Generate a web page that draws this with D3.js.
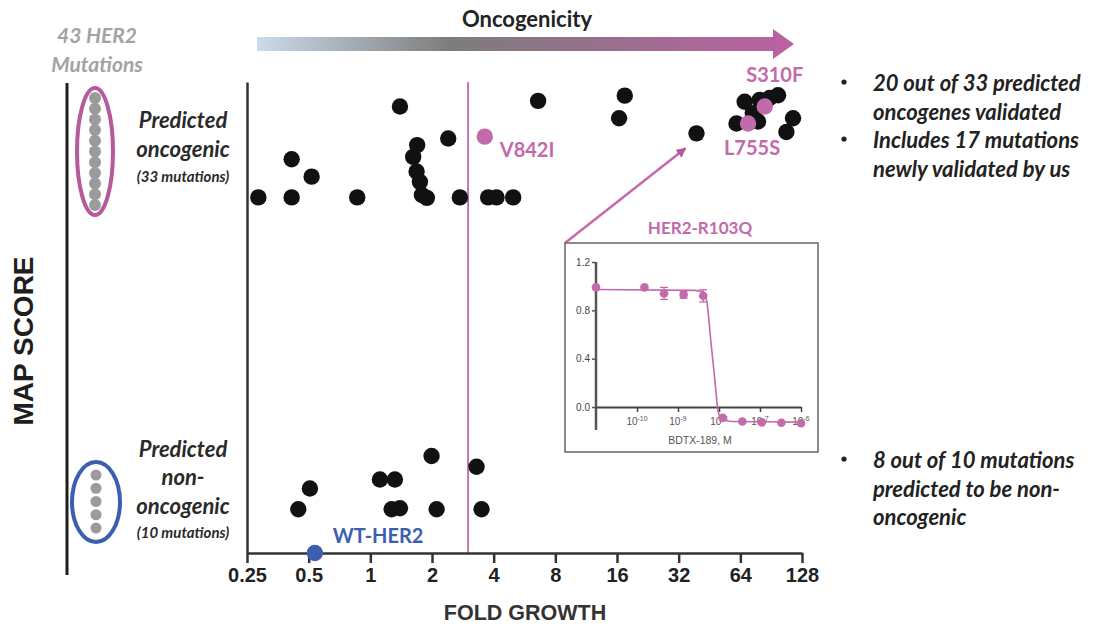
<!DOCTYPE html>
<html><head><meta charset="utf-8">
<script src="https://cdn.jsdelivr.net/npm/d3@7"></script>
<style>body{margin:0;background:#fff} svg{display:block}</style>
</head><body><svg id="c" width="1100" height="630"></svg>
<script>
// ---------- data ----------
const foldTicks = [0.25, 0.5, 1, 2, 4, 8, 16, 32, 64, 128];
const foldTickLabels = ["0.25", "0.5", "1", "2", "4", "8", "16", "32", "64", "128"];
const threshold = 3;

// predicted oncogenic, black markers [fold growth, MAP score]
const oncogenicPoints = [
  [0.284, 75.5], [0.413, 75.5], [0.413, 83.6], [0.517, 79.9], [0.863, 75.5],
  [1.395, 94.8], [1.693, 86.6], [1.619, 84.1], [1.682, 81.0], [1.746, 78.8],
  [1.785, 76.0], [1.888, 75.4], [2.40, 88.0], [2.736, 75.5], [3.76, 75.5],
  [4.13, 75.5], [4.98, 75.5], [6.59, 96.0], [17.46, 97.1], [16.38, 92.3],
  [61.3, 91.2], [67.2, 95.8], [79.6, 96.2], [97.8, 97.2], [78.1, 91.6],
  [115.7, 92.3], [107.4, 89.4], [73.6, 93.4], [89.0, 96.6]
];
const calloutMutation = { name: "HER2-R103Q", fold: 39.1, score: 89.1 };
const highlightNames = ["V842I", "S310F", "L755S"];
const highlightFold = [3.62, 84.2, 69.8];
const highlightScore = [88.4, 94.8, 91.2];

// predicted non-oncogenic
const nonOncogenicPoints = [
  [0.507, 13.7], [0.445, 9.3], [1.114, 15.6], [1.318, 15.6], [1.99, 20.6],
  [1.270, 9.3], [1.395, 9.5], [2.107, 9.3], [3.30, 18.3], [3.49, 9.3]
];
const wildType = { name: "WT-HER2", fold: 0.536, score: 0 };

// inset dose response (BDTX-189, M)
const insetConc = [1e-11, 1.52e-10, 4.57e-10, 1.37e-9, 4.12e-9, 1.23e-8, 3.7e-8, 1.11e-7, 3.33e-7, 1e-6];
const insetResp = [0.99, 0.99, 0.94, 0.93, 0.92, -0.09, -0.12, -0.127, -0.13, -0.135];
const insetErr  = [0, 0, 0.05, 0.03, 0.05, 0, 0, 0, 0, 0];
const insetFitLogConc = [-11, -8.6, -8.38, -8.3, -8.2, -8.1, -8.02, -7.93, -7.7, -6];
const insetFitResp    = [0.972, 0.965, 0.95, 0.88, 0.55, 0.22, -0.04, -0.1, -0.12, -0.125];
const insetYTicks = [0.0, 0.4, 0.8, 1.2];
const insetXTickExp = [-10, -9, -8, -7, -6];

const rightNotesTop = ["20 out of 33 predicted", "oncogenes validated", "Includes 17 mutations", "newly validated by us"];
const rightNotesBottom = ["8 out of 10 mutations", "predicted to be non-", "oncogenic"];

// ---------- styles ----------
const MAG = "#b55a9d", MAG2 = "#c36aab", BLUE = "#3d5db2", INK = "#1e1e1e";
const SANS = "'Liberation Sans', Arial, sans-serif";
const CAL = "Lato, 'Open Sans', sans-serif";

const svg = d3.select("#c");
const x = d3.scaleLog().base(2).domain([0.25, 128]).range([247, 802]);
const y = d3.scaleLinear().domain([0, 100]).range([553, 82]);

// ---------- oncogenicity arrow ----------
const defs = svg.append("defs");
const grad = defs.append("linearGradient").attr("id", "g1").attr("x1", "0%").attr("x2", "100%");
grad.append("stop").attr("offset", "0%").attr("stop-color", "#cbdbea");
grad.append("stop").attr("offset", "36%").attr("stop-color", "#7c7c7c");
grad.append("stop").attr("offset", "100%").attr("stop-color", "#bb61a2");
defs.append("marker").attr("id", "ah").attr("viewBox", "0 0 10 10").attr("refX", 9).attr("refY", 5)
  .attr("markerWidth", 4).attr("markerHeight", 4).attr("orient", "auto")
  .append("path").attr("d", "M0,0L10,5L0,10z").attr("fill", MAG);

svg.append("path")
  .attr("d", "M257,37 L773,37 L773,29 L794,44 L773,59 L773,51 L257,51 Z")
  .attr("fill", "url(#g1)");
svg.append("text").attr("x", 527).attr("y", 27).attr("text-anchor", "middle")
  .attr("font-family", CAL).attr("font-weight", 700).attr("font-size", 22).attr("fill", "#222")
  .text("Oncogenicity");

// ---------- left annotation ----------
svg.append("text").attr("x", 97).attr("y", 43).attr("text-anchor", "middle")
  .attr("font-family", CAL).attr("font-weight", 700).attr("font-style", "italic")
  .attr("font-size", 21).attr("fill", "#a3a3a3").text("43 HER2");
svg.append("text").attr("x", 97).attr("y", 72).attr("text-anchor", "middle")
  .attr("font-family", CAL).attr("font-weight", 700).attr("font-style", "italic")
  .attr("font-size", 21).attr("fill", "#a3a3a3").text("Mutations");

svg.append("line").attr("x1", 67).attr("x2", 67).attr("y1", 83).attr("y2", 575)
  .attr("stroke", INK).attr("stroke-width", 3);

svg.append("text").attr("transform", "translate(33,341) rotate(-90)").attr("text-anchor", "middle")
  .attr("font-family", SANS).attr("font-weight", 700).attr("font-size", 28).attr("fill", INK)
  .text("MAP SCORE");

function grayColumn(cx, y0, y1, n, r) {
  const s = d3.scalePoint().domain(d3.range(n)).range([y0, y1]);
  svg.append("g").selectAll("circle").data(d3.range(n)).join("circle")
    .attr("cx", cx).attr("cy", d => s(d)).attr("r", r).attr("fill", "#9b9b9b");
}
grayColumn(95, 98, 205, 11, 6);
svg.append("ellipse").attr("cx", 95).attr("cy", 151.5).attr("rx", 18).attr("ry", 63.5)
  .attr("fill", "none").attr("stroke", MAG).attr("stroke-width", 4);
grayColumn(96, 475, 528, 5, 5.5);
svg.append("ellipse").attr("cx", 96).attr("cy", 502).attr("rx", 24).attr("ry", 40)
  .attr("fill", "none").attr("stroke", BLUE).attr("stroke-width", 4);

function groupLabel(lines, sizes, ys) {
  lines.forEach((t, i) => {
    svg.append("text").attr("x", 183).attr("y", ys[i]).attr("text-anchor", "middle")
      .attr("font-family", CAL).attr("font-weight", 700).attr("font-style", "italic")
      .attr("font-size", sizes[i]).attr("fill", "#2a2a2a").text(t);
  });
}
groupLabel(["Predicted", "oncogenic", "(33 mutations)"], [22, 22, 15], [128, 157, 182]);
groupLabel(["Predicted", "non-", "oncogenic", "(10 mutations)"], [22, 22, 22, 15], [457, 485, 514, 538]);

// ---------- main axes ----------
svg.append("line").attr("x1", x(threshold)).attr("x2", x(threshold))
  .attr("y1", y(100)).attr("y2", y(0)).attr("stroke", MAG).attr("stroke-width", 1.6);

const gy = svg.append("g").attr("transform", `translate(${x(0.25)},0)`)
  .call(d3.axisLeft(y).tickValues([]).tickSizeOuter(0));
gy.select(".domain").attr("stroke", "#333").attr("stroke-width", 2.5);

const gx = svg.append("g").attr("transform", `translate(0,${y(0)})`)
  .call(d3.axisBottom(x).tickValues(foldTicks).tickFormat((d, i) => foldTickLabels[i])
    .tickSize(10).tickSizeOuter(0).tickPadding(5));
gx.select(".domain").attr("stroke", "#333").attr("stroke-width", 2.5);
gx.selectAll(".tick line").attr("stroke", "#333").attr("stroke-width", 2.5);
gx.selectAll(".tick text").attr("font-family", SANS).attr("font-weight", 700)
  .attr("font-size", 20).attr("fill", "#222");

svg.append("text").attr("x", 525).attr("y", 620).attr("text-anchor", "middle")
  .attr("font-family", SANS).attr("font-weight", 700).attr("font-size", 21.5).attr("fill", "#333").text("FOLD GROWTH");

// ---------- callout line + inset ----------
const inset = { x: 565, y: 243, w: 253, h: 209 };
svg.append("line").attr("x1", inset.x).attr("y1", inset.y)
  .attr("x2", x(calloutMutation.fold) - 11).attr("y2", y(calloutMutation.score) + 15)
  .attr("stroke", MAG2).attr("stroke-width", 2.5).attr("marker-end", "url(#ah)");

// ---------- dots ----------
const R = 8.2;
svg.append("g").selectAll("circle").data(oncogenicPoints.concat([[calloutMutation.fold, calloutMutation.score]]))
  .join("circle").attr("cx", d => x(d[0])).attr("cy", d => y(d[1])).attr("r", R).attr("fill", "#111");
svg.append("g").selectAll("circle").data(nonOncogenicPoints)
  .join("circle").attr("cx", d => x(d[0])).attr("cy", d => y(d[1])).attr("r", R).attr("fill", "#111");
svg.append("g").selectAll("circle").data(highlightNames)
  .join("circle").attr("cx", (d, i) => x(highlightFold[i])).attr("cy", (d, i) => y(highlightScore[i]))
  .attr("r", R).attr("fill", MAG2);
svg.append("circle").attr("cx", x(wildType.fold)).attr("cy", y(wildType.score)).attr("r", R).attr("fill", BLUE);

const hlOffsets = { V842I: [15, 20, "start"], S310F: [10, -24, "middle"], L755S: [4, 32, "middle"] };
highlightNames.forEach((n, i) => {
  const o = hlOffsets[n];
  svg.append("text").attr("x", x(highlightFold[i]) + o[0]).attr("y", y(highlightScore[i]) + o[1])
    .attr("text-anchor", o[2]).attr("font-family", CAL).attr("font-weight", 700)
    .attr("font-size", 20).attr("fill", MAG2).text(n);
});
svg.append("text").attr("x", x(wildType.fold) + 18).attr("y", y(wildType.score) - 10)
  .attr("font-family", CAL).attr("font-weight", 700).attr("font-size", 20).attr("fill", BLUE)
  .text(wildType.name);

// ---------- inset ----------
svg.append("rect").attr("x", inset.x).attr("y", inset.y).attr("width", inset.w).attr("height", inset.h)
  .attr("fill", "#fff").attr("stroke", "#666").attr("stroke-width", 1.5);
svg.append("text").attr("x", 700).attr("y", 234).attr("text-anchor", "middle")
  .attr("font-family", CAL).attr("font-weight", 700).attr("font-size", 17).attr("fill", MAG2)
  .text(calloutMutation.name);

const ix = d3.scaleLog().domain([1e-11, 1e-6]).range([596, 801]);
const iy = d3.scaleLinear().domain([0, 1.2]).range([407, 262]);

svg.append("line").attr("x1", ix(1e-11)).attr("x2", ix(1e-11)).attr("y1", iy(1.2)).attr("y2", iy(-0.19))
  .attr("stroke", "#555").attr("stroke-width", 2.5);
const iyg = svg.append("g").attr("transform", `translate(${ix(1e-11)},0)`)
  .call(d3.axisLeft(iy).tickValues(insetYTicks).tickFormat(d3.format(".1f")).tickSize(4).tickPadding(2));
iyg.select(".domain").remove();
iyg.selectAll(".tick line").attr("stroke", "#555").attr("stroke-width", 1.5);
iyg.selectAll(".tick text").attr("font-family", SANS).attr("font-size", 10).attr("fill", "#444");

const ixg = svg.append("g").attr("transform", `translate(0,${iy(0)})`)
  .call(d3.axisBottom(ix).tickValues(insetXTickExp.map(e => Math.pow(10, e))).tickSize(5).tickSizeOuter(0).tickFormat(""));
ixg.select(".domain").attr("stroke", "#444").attr("stroke-width", 2);
ixg.selectAll(".tick line").attr("stroke", "#444").attr("stroke-width", 1.5);
insetXTickExp.forEach(e => {
  const t = svg.append("text").attr("x", ix(Math.pow(10, e))).attr("y", 425).attr("text-anchor", "middle")
    .attr("font-family", SANS).attr("font-size", 10).attr("fill", "#555");
  t.append("tspan").text("10");
  t.append("tspan").attr("dy", -4).attr("font-size", 7).text("-" + Math.abs(e));
});
svg.append("text").attr("x", 700).attr("y", 444).attr("text-anchor", "middle")
  .attr("font-family", SANS).attr("font-size", 10.5).attr("fill", "#555").text("BDTX-189,  M");

svg.append("path").datum(insetFitLogConc.map((l, i) => [l, insetFitResp[i]]))
  .attr("d", d3.line().x(d => ix(Math.pow(10, d[0]))).y(d => iy(d[1])).curve(d3.curveMonotoneX))
  .attr("fill", "none").attr("stroke", MAG2).attr("stroke-width", 1.6);
const eb = svg.append("g").attr("stroke", MAG2).attr("stroke-width", 1.3);
insetConc.forEach((c, i) => {
  if (!insetErr[i]) return;
  const cx = ix(c);
  eb.append("line").attr("x1", cx).attr("x2", cx).attr("y1", iy(insetResp[i] + insetErr[i])).attr("y2", iy(insetResp[i] - insetErr[i]));
  [1, -1].forEach(s => eb.append("line").attr("x1", cx - 4).attr("x2", cx + 4)
    .attr("y1", iy(insetResp[i] + s * insetErr[i])).attr("y2", iy(insetResp[i] + s * insetErr[i])));
});
svg.append("g").selectAll("circle").data(insetConc).join("circle")
  .attr("cx", d => ix(d)).attr("cy", (d, i) => iy(insetResp[i])).attr("r", 4.3).attr("fill", MAG2);

// ---------- right notes ----------
function notes(lines, bulletIdx, y0) {
  lines.forEach((t, i) => {
    svg.append("text").attr("x", 873).attr("y", y0 + i * 28.5)
      .attr("font-family", CAL).attr("font-weight", 700).attr("font-style", "italic")
      .attr("font-size", 22).attr("fill", "#222").text(t);
    if (bulletIdx.includes(i)) svg.append("circle").attr("cx", 844).attr("cy", y0 + i * 28.5 - 9)
      .attr("r", 2.6).attr("fill", "#222");
  });
}
notes(rightNotesTop, [0, 2], 91);
notes(rightNotesBottom, [0], 468);
</script></body></html>
